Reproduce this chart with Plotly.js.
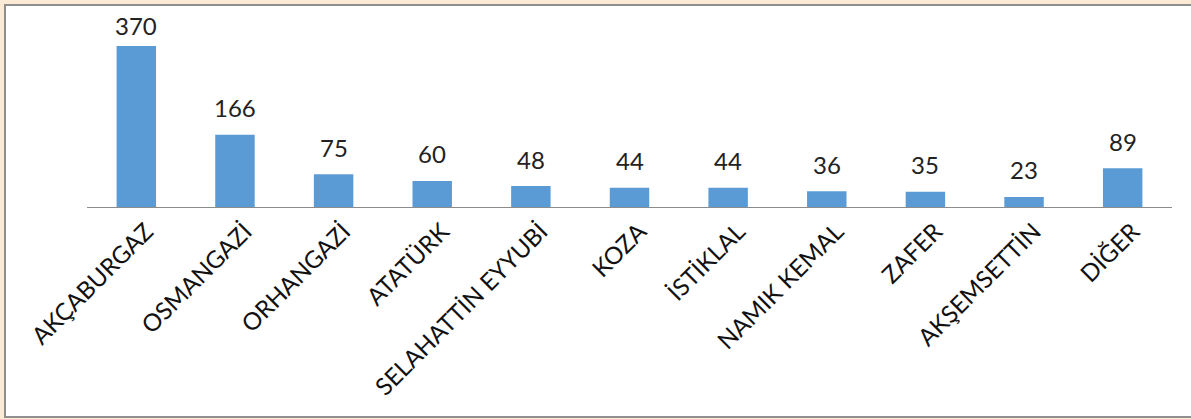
<!DOCTYPE html>
<html>
<head>
<meta charset="utf-8">
<script src="https://cdn.plot.ly/plotly-3.0.1.min.js"></script>
<style>html,body{margin:0;padding:0;background:#fcebd4;}#chart{width:1191px;height:419px;}</style>
</head>
<body>
<div id="chart"></div>
<script>
const categories = ["AKÇABURGAZ","OSMANGAZİ","ORHANGAZİ","ATATÜRK","SELAHATTİN EYYUBİ","KOZA","İSTİKLAL","NAMIK KEMAL","ZAFER","AKŞEMSETTİN","DİĞER"];
const values = [370,166,75,60,48,44,44,36,35,23,89];

const fontFam = "Lato, 'Open Sans', sans-serif";
const W = 1191, H = 419;
const M = {l: 87, r: 19, t: 46, b: 212};
const yMax = 370;
const plotH = H - M.t - M.b;

const trace = {
  type: "bar",
  x: categories,
  y: values,
  marker: {color: "#5b9bd5"},
  width: 0.4,
  hoverinfo: "none"
};

// value labels sit above each bar, kept inside the chart frame (like Excel)
const labelAnnotations = categories.map((c, i) => {
  const barTopPx = M.t + plotH * (1 - values[i] / yMax);
  const shift = Math.min(27, barTopPx - 25);
  return {
    x: c, y: values[i], xref: "x", yref: "y",
    text: String(values[i]),
    showarrow: false,
    yanchor: "middle",
    yshift: shift,
    font: {family: fontFam, size: 24, color: "#222"}
  };
});

const layout = {
  width: W, height: H,
  margin: M,
  paper_bgcolor: "rgba(0,0,0,0)",
  plot_bgcolor: "rgba(0,0,0,0)",
  showlegend: false,
  font: {family: fontFam, color: "#111"},
  xaxis: {
    type: "category",
    tickangle: -45,
    tickfont: {size: 24, color: "#111"},
    ticklabelshift: 10,
    showline: true, linecolor: "#8c8c8c", linewidth: 1,
    showgrid: false, zeroline: false, ticks: ""
  },
  yaxis: {
    range: [0, yMax],
    visible: false,
    showgrid: false, zeroline: false
  },
  annotations: labelAnnotations,
  shapes: [{
    type: "rect", xref: "paper", yref: "paper",
    x0: (5-87)/1085, x1: (1191-87+5)/1085,
    y0: -(417-207)/161, y1: (207-5)/161,
    fillcolor: "#ffffff",
    line: {color: "#8f8f8f", width: 2},
    layer: "below"
  }]
};

Plotly.newPlot("chart", [trace], layout, {staticPlot: true, displayModeBar: false});
</script>
</body>
</html>
